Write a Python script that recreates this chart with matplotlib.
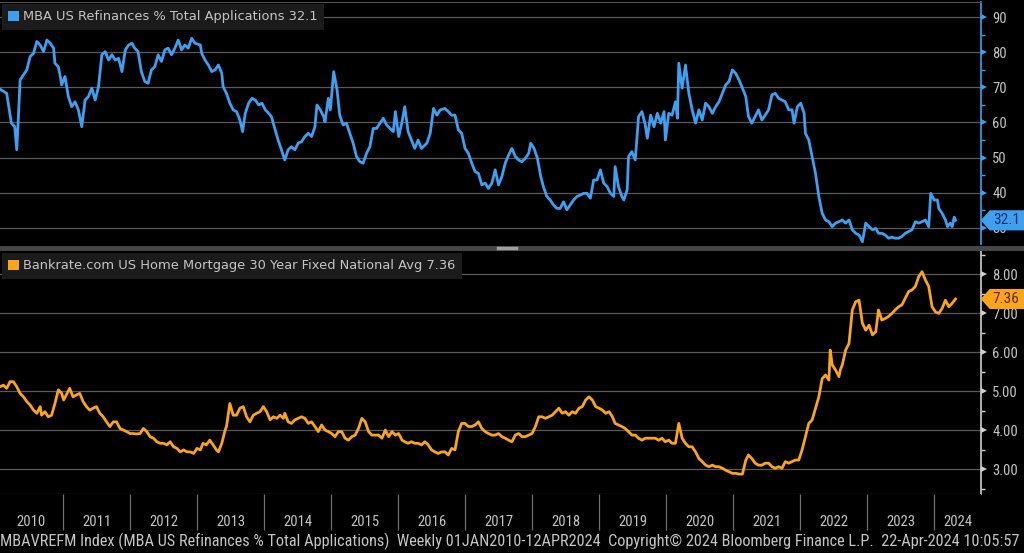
import matplotlib
matplotlib.use("Agg")
import matplotlib.pyplot as plt
import matplotlib.transforms as mtransforms
from matplotlib import font_manager
from matplotlib.patches import Patch
from matplotlib.path import Path
from matplotlib.lines import Line2D

# ---- data (decimal years) ----
refi_t = [2010.06, 2010.16, 2010.23, 2010.28, 2010.31, 2010.33, 2010.36, 2010.41, 2010.46, 2010.51,
          2010.56, 2010.61, 2010.66, 2010.71, 2010.76, 2010.81, 2010.86, 2010.88, 2010.93, 2010.96,
          2010.98, 2011.03, 2011.08, 2011.13, 2011.18, 2011.23, 2011.28, 2011.33, 2011.38, 2011.43,
          2011.48, 2011.53, 2011.58, 2011.63, 2011.68, 2011.73, 2011.78, 2011.83, 2011.88, 2011.93,
          2011.98, 2012.03, 2012.07, 2012.12, 2012.17, 2012.22, 2012.27, 2012.32, 2012.37, 2012.42,
          2012.47, 2012.52, 2012.57, 2012.62, 2012.67, 2012.72, 2012.77, 2012.82, 2012.87, 2012.92,
          2012.97, 2013.05, 2013.07, 2013.12, 2013.17, 2013.22, 2013.27, 2013.32, 2013.37, 2013.39,
          2013.44, 2013.49, 2013.54, 2013.59, 2013.64, 2013.68, 2013.72, 2013.77, 2013.82, 2013.87,
          2013.92, 2013.97, 2014.02, 2014.07, 2014.11, 2014.16, 2014.21, 2014.26, 2014.31, 2014.36,
          2014.41, 2014.46, 2014.51, 2014.56, 2014.61, 2014.66, 2014.71, 2014.76, 2014.79, 2014.84,
          2014.89, 2014.91, 2014.96, 2014.99, 2015.04, 2015.09, 2015.13, 2015.18, 2015.23, 2015.28,
          2015.33, 2015.38, 2015.43, 2015.48, 2015.53, 2015.58, 2015.63, 2015.68, 2015.73, 2015.78,
          2015.83, 2015.88, 2015.93, 2015.96, 2016.01, 2016.06, 2016.10, 2016.15, 2016.20, 2016.25,
          2016.30, 2016.35, 2016.43, 2016.48, 2016.53, 2016.58, 2016.63, 2016.70, 2016.75, 2016.80,
          2016.85, 2016.90, 2016.95, 2017.00, 2017.05, 2017.10, 2017.15, 2017.20, 2017.25, 2017.30,
          2017.35, 2017.40, 2017.45, 2017.50, 2017.55, 2017.60, 2017.65, 2017.70, 2017.75, 2017.80,
          2017.85, 2017.90, 2017.95, 2017.98, 2018.03, 2018.08, 2018.13, 2018.17, 2018.22, 2018.27,
          2018.32, 2018.37, 2018.42, 2018.47, 2018.52, 2018.57, 2018.62, 2018.67, 2018.72, 2018.77,
          2018.82, 2018.87, 2018.92, 2018.97, 2019.02, 2019.07, 2019.12, 2019.17, 2019.22, 2019.24,
          2019.29, 2019.34, 2019.37, 2019.42, 2019.44, 2019.49, 2019.54, 2019.59, 2019.64, 2019.69,
          2019.72, 2019.77, 2019.82, 2019.87, 2019.92, 2019.97, 2019.99, 2020.04, 2020.09, 2020.14,
          2020.17, 2020.19, 2020.24, 2020.29, 2020.34, 2020.39, 2020.44, 2020.49, 2020.54, 2020.59,
          2020.64, 2020.69, 2020.74, 2020.79, 2020.84, 2020.89, 2020.94, 2020.99, 2021.04, 2021.09,
          2021.14, 2021.19, 2021.23, 2021.28, 2021.33, 2021.38, 2021.43, 2021.48, 2021.53, 2021.58,
          2021.63, 2021.68, 2021.73, 2021.78, 2021.83, 2021.88, 2021.91, 2021.96, 2022.01, 2022.06,
          2022.08, 2022.13, 2022.18, 2022.23, 2022.28, 2022.33, 2022.38, 2022.43, 2022.48, 2022.53,
          2022.58, 2022.63, 2022.68, 2022.73, 2022.78, 2022.83, 2022.88, 2022.93, 2022.98, 2023.03,
          2023.08, 2023.13, 2023.17, 2023.22, 2023.27, 2023.32, 2023.37, 2023.42, 2023.47, 2023.52,
          2023.57, 2023.62, 2023.67, 2023.72, 2023.77, 2023.82, 2023.87, 2023.92, 2023.95, 2024.00,
          2024.05, 2024.07, 2024.12, 2024.17, 2024.20, 2024.24, 2024.27, 2024.30, 2024.32]
refi_v = [69.5, 68.3, 59.8, 58.8, 52.2, 59.8, 72.1, 73.6, 75.0, 78.8,
          79.7, 83.1, 82.1, 80.2, 83.5, 82.6, 81.2, 76.9, 75.9, 73.1,
          70.7, 73.1, 67.4, 64.5, 65.9, 63.6, 58.8, 66.4, 67.4, 69.8,
          66.4, 70.2, 79.3, 80.2, 77.8, 79.3, 77.8, 78.3, 74.5, 80.7,
          82.1, 82.6, 81.2, 80.2, 74.5, 71.7, 71.2, 75.0, 75.9, 79.3,
          77.4, 80.7, 81.2, 79.3, 81.2, 83.5, 80.7, 82.1, 81.2, 84.0,
          82.6, 82.1, 79.7, 77.8, 76.4, 74.5, 75.0, 76.4, 74.0, 70.2,
          68.3, 65.5, 63.6, 63.1, 60.7, 57.4, 62.6, 65.5, 66.9, 66.4,
          65.0, 65.5, 63.6, 62.6, 61.7, 58.3, 55.0, 52.2, 49.3, 52.2,
          53.1, 52.2, 54.1, 54.5, 56.0, 56.9, 56.0, 58.8, 65.0, 63.6,
          61.7, 60.2, 66.9, 63.6, 74.5, 69.3, 62.1, 59.3, 59.8, 56.9,
          54.1, 50.3, 48.8, 48.4, 51.2, 53.1, 58.3, 58.3, 59.8, 61.2,
          59.3, 58.3, 57.4, 63.1, 56.0, 60.2, 64.5, 57.4, 55.0, 52.6,
          55.0, 52.6, 54.1, 56.9, 64.0, 62.1, 63.6, 64.0, 63.1, 62.1,
          62.1, 57.9, 56.9, 52.6, 51.2, 48.4, 46.0, 45.5, 42.2, 42.7,
          41.2, 42.7, 46.5, 42.2, 44.6, 48.4, 50.7, 52.6, 50.3, 49.3,
          48.8, 49.8, 51.2, 54.1, 52.6, 49.8, 44.6, 41.7, 38.9, 37.9,
          36.5, 35.5, 35.5, 37.4, 35.1, 36.5, 37.9, 38.9, 39.3, 39.8,
          39.8, 38.4, 43.6, 43.6, 46.5, 42.7, 41.7, 39.8, 38.9, 47.4,
          41.7, 38.9, 37.9, 40.8, 50.3, 51.7, 49.3, 61.7, 63.1, 59.3,
          55.5, 62.1, 58.8, 62.6, 59.8, 63.1, 55.0, 62.6, 62.1, 65.9,
          61.2, 76.9, 69.8, 76.4, 68.3, 63.6, 59.8, 63.6, 60.7, 65.5,
          64.5, 62.6, 64.5, 65.9, 68.3, 70.7, 71.7, 75.0, 74.0, 72.1,
          69.8, 67.4, 61.7, 59.8, 61.7, 63.6, 60.7, 62.1, 63.6, 67.9,
          68.3, 66.9, 66.4, 65.9, 63.6, 63.6, 59.8, 64.5, 65.5, 62.6,
          56.9, 55.0, 50.3, 45.5, 38.9, 34.1, 32.2, 31.7, 30.3, 31.3,
          31.7, 32.2, 31.3, 32.2, 29.4, 28.4, 27.9, 26.0, 31.3, 30.3,
          29.4, 29.8, 28.4, 28.4, 27.9, 27.0, 27.3, 27.0, 27.0, 27.5,
          28.4, 28.9, 29.4, 31.7, 31.3, 31.7, 32.2, 30.3, 39.8, 37.9,
          37.9, 35.5, 34.1, 32.2, 30.3, 31.3, 30.3, 33.0, 32.1]

rate_t = [2010.06, 2010.11, 2010.16, 2010.21, 2010.26, 2010.31, 2010.36, 2010.41, 2010.46, 2010.51,
          2010.56, 2010.61, 2010.66, 2010.68, 2010.73, 2010.78, 2010.83, 2010.88, 2010.93, 2010.98,
          2011.01, 2011.06, 2011.10, 2011.15, 2011.20, 2011.25, 2011.30, 2011.35, 2011.40, 2011.45,
          2011.50, 2011.55, 2011.60, 2011.65, 2011.70, 2011.75, 2011.80, 2011.85, 2011.90, 2011.95,
          2012.00, 2012.05, 2012.10, 2012.15, 2012.20, 2012.25, 2012.30, 2012.35, 2012.40, 2012.45,
          2012.50, 2012.55, 2012.60, 2012.65, 2012.70, 2012.75, 2012.80, 2012.85, 2012.90, 2012.95,
          2013.00, 2013.05, 2013.09, 2013.14, 2013.19, 2013.24, 2013.29, 2013.32, 2013.37, 2013.42,
          2013.44, 2013.49, 2013.54, 2013.59, 2013.64, 2013.69, 2013.74, 2013.79, 2013.84, 2013.89,
          2013.94, 2013.99, 2014.04, 2014.09, 2014.14, 2014.19, 2014.24, 2014.29, 2014.31, 2014.36,
          2014.41, 2014.46, 2014.51, 2014.56, 2014.61, 2014.66, 2014.71, 2014.76, 2014.81, 2014.86,
          2014.91, 2014.96, 2015.01, 2015.06, 2015.11, 2015.16, 2015.21, 2015.26, 2015.31, 2015.36,
          2015.41, 2015.46, 2015.51, 2015.56, 2015.61, 2015.66, 2015.71, 2015.76, 2015.81, 2015.86,
          2015.91, 2015.96, 2016.01, 2016.06, 2016.10, 2016.15, 2016.20, 2016.25, 2016.30, 2016.35,
          2016.40, 2016.45, 2016.50, 2016.55, 2016.60, 2016.65, 2016.70, 2016.75, 2016.80, 2016.85,
          2016.90, 2016.95, 2017.00, 2017.05, 2017.10, 2017.15, 2017.20, 2017.25, 2017.30, 2017.35,
          2017.40, 2017.45, 2017.50, 2017.55, 2017.60, 2017.65, 2017.70, 2017.75, 2017.80, 2017.85,
          2017.90, 2017.95, 2018.00, 2018.05, 2018.10, 2018.15, 2018.20, 2018.25, 2018.30, 2018.35,
          2018.40, 2018.45, 2018.50, 2018.55, 2018.60, 2018.65, 2018.70, 2018.75, 2018.80, 2018.85,
          2018.90, 2018.95, 2019.00, 2019.05, 2019.10, 2019.15, 2019.20, 2019.24, 2019.29, 2019.34,
          2019.39, 2019.44, 2019.49, 2019.54, 2019.59, 2019.64, 2019.69, 2019.74, 2019.79, 2019.84,
          2019.89, 2019.94, 2019.99, 2020.04, 2020.09, 2020.14, 2020.19, 2020.24, 2020.29, 2020.34,
          2020.39, 2020.44, 2020.49, 2020.54, 2020.59, 2020.64, 2020.69, 2020.74, 2020.79, 2020.84,
          2020.89, 2020.94, 2020.99, 2021.04, 2021.09, 2021.14, 2021.19, 2021.23, 2021.28, 2021.33,
          2021.38, 2021.43, 2021.48, 2021.53, 2021.58, 2021.63, 2021.68, 2021.73, 2021.78, 2021.83,
          2021.88, 2021.93, 2021.98, 2022.03, 2022.08, 2022.13, 2022.18, 2022.23, 2022.28, 2022.33,
          2022.38, 2022.43, 2022.45, 2022.48, 2022.53, 2022.58, 2022.60, 2022.63, 2022.68, 2022.73,
          2022.78, 2022.83, 2022.88, 2022.93, 2022.98, 2023.03, 2023.08, 2023.13, 2023.17, 2023.22,
          2023.27, 2023.32, 2023.37, 2023.42, 2023.47, 2023.52, 2023.57, 2023.62, 2023.67, 2023.72,
          2023.77, 2023.82, 2023.87, 2023.92, 2023.97, 2024.02, 2024.07, 2024.12, 2024.17, 2024.22,
          2024.27, 2024.32]
rate_v = [5.11, 5.15, 5.07, 5.24, 5.24, 5.11, 4.94, 4.85, 4.73, 4.64,
          4.51, 4.43, 4.60, 4.38, 4.47, 4.34, 4.38, 4.68, 5.03, 4.94,
          4.77, 4.94, 5.07, 4.85, 4.90, 4.94, 4.73, 4.60, 4.51, 4.56,
          4.60, 4.43, 4.34, 4.21, 4.09, 4.21, 4.21, 4.04, 4.00, 3.96,
          3.91, 3.91, 3.90, 3.91, 4.04, 3.96, 3.83, 3.79, 3.70, 3.66,
          3.66, 3.62, 3.70, 3.57, 3.53, 3.44, 3.49, 3.44, 3.44, 3.40,
          3.53, 3.49, 3.66, 3.62, 3.74, 3.62, 3.49, 3.44, 3.66, 4.00,
          4.09, 4.68, 4.38, 4.38, 4.56, 4.60, 4.34, 4.21, 4.38, 4.43,
          4.47, 4.60, 4.47, 4.26, 4.34, 4.30, 4.38, 4.30, 4.43, 4.21,
          4.17, 4.26, 4.30, 4.34, 4.30, 4.17, 4.21, 4.09, 3.96, 4.13,
          4.00, 3.96, 3.91, 3.83, 3.96, 3.96, 3.79, 3.74, 3.83, 3.87,
          4.04, 4.30, 4.21, 3.96, 3.87, 3.87, 3.87, 3.79, 4.00, 3.83,
          3.96, 3.87, 3.91, 3.74, 3.70, 3.66, 3.70, 3.66, 3.66, 3.62,
          3.70, 3.62, 3.49, 3.44, 3.40, 3.44, 3.44, 3.36, 3.53, 3.49,
          3.96, 4.17, 4.17, 4.09, 4.09, 4.13, 4.21, 4.04, 3.96, 3.91,
          3.87, 3.87, 3.91, 3.83, 3.79, 3.74, 3.70, 3.87, 3.91, 3.83,
          3.83, 3.87, 3.91, 4.09, 4.34, 4.34, 4.30, 4.34, 4.38, 4.47,
          4.56, 4.43, 4.47, 4.38, 4.47, 4.43, 4.56, 4.60, 4.77, 4.85,
          4.77, 4.60, 4.56, 4.51, 4.43, 4.47, 4.34, 4.17, 4.13, 4.09,
          4.04, 3.96, 3.87, 3.87, 3.79, 3.74, 3.79, 3.79, 3.79, 3.79,
          3.74, 3.79, 3.70, 3.74, 3.66, 3.66, 4.17, 3.79, 3.66, 3.57,
          3.57, 3.44, 3.27, 3.19, 3.10, 3.06, 3.10, 3.06, 3.06, 3.02,
          2.97, 2.93, 2.89, 2.89, 2.87, 2.87, 3.23, 3.36, 3.27, 3.15,
          3.10, 3.10, 3.15, 3.15, 3.06, 3.02, 3.06, 3.02, 3.19, 3.15,
          3.19, 3.23, 3.23, 3.49, 3.83, 4.17, 4.26, 4.56, 4.85, 5.32,
          5.41, 5.28, 6.05, 5.67, 5.54, 5.37, 5.54, 5.67, 6.05, 6.22,
          7.08, 7.29, 7.33, 6.74, 6.56, 6.69, 6.44, 6.52, 7.08, 6.82,
          6.86, 6.91, 6.99, 7.08, 7.16, 7.21, 7.38, 7.55, 7.59, 7.68,
          7.93, 8.06, 7.85, 7.68, 7.16, 7.03, 6.99, 7.12, 7.33, 7.16,
          7.25, 7.36]

years = list(range(2010, 2025))
refi_ticks = [30, 40, 50, 60, 70, 80, 90]
refi_minor = [35, 45, 55, 65, 75, 85]
rate_ticks = [3, 4, 5, 6, 7, 8]
rate_minor = [2.5, 3.5, 4.5, 5.5, 6.5, 7.5, 8.5]
refi_name = "MBA US Refinances % Total Applications"
rate_name = "Bankrate.com US Home Mortgage 30 Year Fixed National Avg"
footer = ("MBAVREFM Index (MBA US Refinances % Total Applications)  Weekly 01JAN2010-12APR2024  "
          "Copyright\u00a9 2024 Bloomberg Finance L.P.  22-Apr-2024 10:05:57")

BLUE = '#3f9ff0'
ORANGE = '#fba41c'
GRID = '#595959'
TXT = '#c4c4c4'

names = {f.name for f in font_manager.fontManager.ttflist}
def pick(*cands):
    for c in cands:
        if c in names:
            return c
    return 'DejaVu Sans'
narrow = pick('Liberation Sans Narrow', 'DejaVu Sans Condensed', 'Roboto Condensed', 'Liberation Sans')
plt.rcParams['font.family'] = 'DejaVu Sans'

XMIN, XMAX = 2010.06, 2024.70

fig = plt.figure(figsize=(10.24, 5.53), dpi=100, facecolor='black')
ax1 = fig.add_axes([0, 0.5588, 0.958, 0.4376])
ax2 = fig.add_axes([0, 0.1067, 0.958, 0.4394])
axx = fig.add_axes([0, 0.0380, 0.958, 0.0687])


def tag(x0, y0, width, height, mutation_size):
    # price tag with a pointed left end, running to the right edge of the figure
    pad = 0.2 * mutation_size
    x0 -= pad; y0 -= pad
    height += 2 * pad
    right = fig.bbox.width + 2
    tip = height * 0.45
    verts = [(x0, y0), (right, y0), (right, y0 + height),
             (x0, y0 + height), (x0 - tip, y0 + height / 2), (x0, y0)]
    return Path(verts, closed=True)


def style_panel(ax, ticks, minor, ylim, spine_col, fmt):
    ax.set_facecolor('black')
    for s in ('left', 'bottom', 'top'):
        ax.spines[s].set_visible(False)
    ax.spines['right'].set_color(spine_col)
    ax.spines['right'].set_linewidth(1.2)
    ax.yaxis.tick_right()
    ax.set_xticks([])
    ax.set_yticks(ticks)
    ax.set_yticklabels([fmt.format(t) for t in ticks], fontfamily=narrow)
    ax.set_yticks(minor, minor=True)
    ax.tick_params(axis='y', which='major', length=0, pad=8, labelcolor=TXT, labelsize=10.5)
    ax.tick_params(axis='y', which='minor', length=3, width=1, color=spine_col)
    ax.grid(axis='y', which='major', color=GRID, lw=0.9)
    ax.set_axisbelow(True)
    tr = mtransforms.blended_transform_factory(ax.transAxes, ax.transData) + \
        mtransforms.ScaledTranslation(2.5 / 72, 0, fig.dpi_scale_trans)
    ax.plot([1] * len(ticks), ticks, ls='none', marker='>', ms=4.5, mew=0,
            color=spine_col, transform=tr, clip_on=False)
    ax.set_xlim(XMIN, XMAX)
    ax.set_ylim(*ylim)


style_panel(ax1, refi_ticks, refi_minor, (25.35, 94.36), BLUE, '{:d}')
style_panel(ax2, rate_ticks, rate_minor, (2.36, 8.59), '#d0d0d0', '{:.2f}')

ax1.plot(refi_t, refi_v, color=BLUE, lw=2.0, solid_joinstyle='round')
ax2.plot(rate_t, rate_v, color=ORANGE, lw=2.0, solid_joinstyle='round')

# frame lines
ax1.spines['top'].set_visible(True)
ax1.spines['top'].set_color('#505050')
ax2.spines['bottom'].set_visible(True)
ax2.spines['bottom'].set_color('#8a8a8a')

# legends
for ax, name, val, col, fmt in ((ax1, refi_name, refi_v[-1], BLUE, '{:.1f}'),
                                (ax2, rate_name, rate_v[-1], ORANGE, '{:.2f}')):
    ax.legend([Patch(facecolor=col, edgecolor='none')], [f"{name} {fmt.format(val)}"],
              loc='upper left', bbox_to_anchor=(0, 1), borderaxespad=0.12,
              frameon=True, fancybox=False, facecolor='#1b1b1b', edgecolor='none',
              framealpha=1, fontsize=9.4, labelcolor=TXT, handlelength=0.8,
              handleheight=0.8, handletextpad=0.35, borderpad=0.5)

# last value tags
for ax, val, col, tcol, fmt in ((ax1, refi_v[-1], BLUE, '#0b2c6b', '{:.1f}'),
                                (ax2, rate_v[-1], ORANGE, '#5a2c00', '{:.2f}')):
    tr = mtransforms.blended_transform_factory(ax.transAxes, ax.transData) + \
        mtransforms.ScaledTranslation(8.5 / 72, 0, fig.dpi_scale_trans)
    ax.text(1.0, val, fmt.format(val), transform=tr, ha='left', va='center',
            fontsize=11, fontfamily=narrow, color=tcol, clip_on=False, zorder=10,
            bbox=dict(boxstyle=tag, fc=col, ec='none'))

# year band
axx.set_facecolor('black')
axx.set_xlim(XMIN, XMAX)
axx.set_ylim(0, 1)
axx.set_xticks([])
axx.set_yticks([])
for s in axx.spines.values():
    s.set_visible(False)
axx.vlines(years[1:], 0.05, 1, color='#6e6e6e', lw=0.9)
for y in years:
    lo, hi = max(y, XMIN), min(y + 1, XMAX)
    axx.text((lo + hi) / 2, 0.27, str(y), ha='center', va='center', color=TXT,
             fontsize=10.5, fontfamily=narrow)

# separator between panels
fig.add_artist(Line2D([0, 1], [1 - 248 / 553] * 2, color='#474747', lw=3.5))
fig.add_artist(Line2D([498 / 1024, 516 / 1024], [1 - 248 / 553] * 2, color='#a0a0a0', lw=2.5))

foot = fig.text(0.0, 1 - 541 / 553, footer, ha='left', va='center', color=TXT,
                fontsize=9, fontfamily=narrow)
fig.canvas.draw()
w = foot.get_window_extent().width
foot.set_fontsize(foot.get_fontsize() * 1021 / w)

fig.savefig('out.png', dpi=100, facecolor='black')
